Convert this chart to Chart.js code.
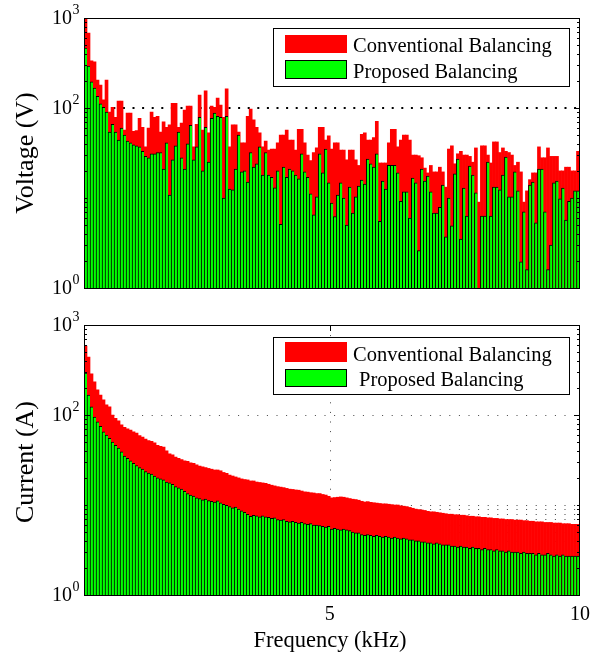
<!DOCTYPE html>
<html>
<head>
<meta charset="utf-8">
<script src="https://cdn.jsdelivr.net/npm/chart.js@4.4.1/dist/chart.umd.min.js"></script>
<style>
  html, body { margin: 0; padding: 0; background: #fff; }
  #wrap { position: relative; width: 592px; height: 654px; }
  canvas { position: absolute; left: 0; }
  #voltageChart { top: 0; }
  #currentChart { top: 305px; }
</style>
</head>
<body>
<div id="wrap">
  <canvas id="voltageChart" width="592" height="305" style="width:592px;height:305px"></canvas>
  <canvas id="currentChart" width="592" height="349" style="width:592px;height:349px"></canvas>
</div>
<script>
// Harmonic spectrum of a 60 Hz system, harmonic orders 2..166 (frequencies in kHz)
const FUNDAMENTAL_KHZ = 0.06;
const harmonicOrders = Array.from({ length: 165 }, (_, i) => i + 2);
const frequencies = harmonicOrders.map(h => +(h * FUNDAMENTAL_KHZ).toFixed(2));

const xTicks = [5, 10];
const yTickLabels = [1, 100, 1000];
const seriesNames = ['Conventional Balancing', 'Proposed Balancing'];

// Voltage harmonics (V)
const voltageConventional = [
  980, 680, 334, 325, 204, 180, 123, 204, 90, 102,
  79, 119, 119, 57, 88, 88, 55, 56, 77, 61,
  37, 60, 90, 79, 81, 54, 70, 61, 65, 113,
  113, 61, 68, 95, 105, 105, 37, 66, 139, 57,
  155, 53, 105, 102, 129, 108, 79, 163, 37, 65,
  65, 54, 41, 41, 81, 97, 74, 61, 53, 37,
  43, 34, 35, 35, 41, 50, 50, 57, 44, 44,
  34, 58, 58, 41, 30, 26, 32, 36, 61, 61,
  44, 49, 35, 41, 41, 34, 34, 26.5, 34, 34,
  26.5, 23, 51, 53, 44, 44, 47, 71, 24.5, 24.5,
  24.5, 41, 58, 58, 37, 44, 50, 50, 44, 30,
  30, 29.5, 28, 21.5, 19, 23, 19.5, 19.5, 22, 19.5,
  13.2, 35, 38, 24, 31, 33, 30, 30, 29, 25,
  36, 9, 38, 38, 30, 24.5, 42, 42, 32, 36,
  33, 32, 30, 23, 25, 19.5, 9, 12, 16, 19,
  19, 37, 28, 28, 36, 29, 29, 29, 20, 20,
  22, 22, 20, 20, 33
];
const voltageProposed = [
  464, 293, 195, 166, 135, 111, 102, 90, 54, 66,
  54, 44, 60, 50, 43, 41, 39, 38, 37, 33,
  29, 28, 31, 31, 32, 32, 21, 41, 10.8, 26.5,
  38, 54, 28, 21, 40, 64, 26.5, 37, 79, 20,
  61, 25, 77, 88, 81, 79, 10, 81, 12.6, 12.3,
  21, 50, 19.5, 20, 15, 32, 22, 24, 37, 18,
  32, 18, 17, 13, 20, 5.1, 22, 17, 21, 20,
  18, 16.3, 31, 19.5, 17, 11.1, 6.5, 10.3, 31, 19,
  35, 14.7, 8.8, 6.2, 10.8, 14.7, 10, 5, 13.2, 6.8,
  10.3, 13.6, 15.8, 14.3, 27, 24, 22, 31, 5.5, 15.4,
  12.6, 23, 23, 23, 19, 9.2, 11.7, 11.7, 6, 16.7,
  14.7, 2.6, 21, 15.4, 17.5, 11.7, 6.8, 6.8, 7.9, 13.9,
  3.7, 10, 4.9, 18.5, 27, 3.5, 12.9, 6.3, 22.7, 18,
  11.4, null, 6.3, 6.3, 25, 6.3, 13.2, 13.2, 12.3, 18,
  28.5, 10.3, 10.3, 19.5, 12, 1.95, 7, 1.6, 13.9, 15,
  5.3, 21, 21, 7, 1.6, 3, 14.7, 15.4, 9.8, 12.9,
  5.7, 9.2, 10, 12, 12
];

// Current harmonics (A)
const currentConventional = [
  585, 441, 286, 233, 190, 167, 147, 130, 123, 100,
  92, 86, 78, 73, 70, 68, 65, 63, 59, 57,
  54, 52, 51, 49, 46, 45, 44, 40, 37, 36,
  34, 33, 32, 31, 30.5, 29.5, 29, 28, 27, 26.5,
  26, 25.5, 25, 24.5, 24.5, 24, 23, 22.5, 21.5, 21,
  20.5, 20, 19.5, 19.2, 19, 18.5, 18.5, 18, 17.8, 17.6,
  17.4, 17, 16.6, 16.3, 16, 15.8, 15.6, 15.3, 15, 14.9,
  14.7, 14.6, 14.3, 14, 13.9, 13.7, 13.6, 13.4, 13.4, 13.1,
  12.9, 12.5, 12, 12.1, 12.2, 12.3, 12.2, 12, 11.8, 11.6,
  11.5, 11.3, 11, 10.8, 10.9, 10.7, 10.6, 10.5, 10.4, 10.3,
  10.3, 10.2, 10.1, 10, 10, 9.8, 9.7, 9.6, 9.4, 9.2,
  9, 8.9, 8.8, 8.7, 8.5, 8.4, 8.4, 8.3, 8.2, 8.1,
  8, 7.9, 7.9, 7.8, 7.8, 7.7, 7.7, 7.6, 7.5, 7.5,
  7.4, 7.4, 7.3, 7.3, 7.2, 7.2, 7.1, 7.1, 7, 7,
  6.9, 6.9, 6.9, 6.8, 6.8, 6.8, 6.7, 6.7, 6.6, 6.6,
  6.5, 6.5, 6.5, 6.4, 6.4, 6.4, 6.3, 6.3, 6.3, 6.2,
  6.2, 6.2, 6.1, 6.1, 6.1
];
const currentProposed = [
  293, 167, 123, 95, 84, 75, 65, 60, 55, 50,
  46, 43, 39, 35, 33, 31, 29, 27.5, 26, 25,
  23.5, 22.7, 22, 21, 20, 19.5, 19, 18, 17.6, 17,
  16, 15.5, 15, 14.2, 13.4, 12.9, 12.6, 12, 11.8, 11.4,
  11.6, 11.2, 11, 10.8, 11.1, 10.6, 10.2, 9.9, 9.6, 9.3,
  9.5, 9, 8.6, 8.3, 7.9, 7.5, 7.7, 7.6, 7.4, 7.6,
  7.4, 7.3, 7.1, 7.2, 6.9, 6.8, 6.9, 6.6, 6.5, 6.6,
  6.4, 6.3, 6.4, 6.2, 6.1, 6.2, 6, 6, 5.9, 5.8,
  5.7, 5.8, 5.4, 5.5, 5.4, 5.3, 5.4, 5.3, 5.2, 5,
  4.9, 4.9, 4.7, 4.6, 4.7, 4.6, 4.5, 4.6, 4.5, 4.4,
  4.5, 4.4, 4.3, 4.4, 4.3, 4.2, 4.3, 4.2, 4.1, 4.1,
  4, 4, 3.9, 3.9, 3.8, 3.8, 3.7, 3.8, 3.7, 3.6,
  3.6, 3.6, 3.5, 3.5, 3.4, 3.5, 3.4, 3.4, 3.3, 3.4,
  3.3, 3.3, 3.2, 3.3, 3.2, 3.2, 3.1, 3.2, 3.1, 3.1,
  3, 3.1, 3, 3, 3, 2.9, 3, 2.9, 2.9, 2.9,
  2.8, 2.9, 2.8, 2.8, 2.9, 2.8, 2.7, 2.8, 2.7, 2.8,
  2.7, 2.7, 2.7, 2.7, 2.7
];

const SERIF = "'Liberation Serif', 'Times New Roman', serif";
const RED = '#ff0000';
const GREEN = '#00ff00';

function toPoints(values) {
  return frequencies.map((f, i) => ({ x: f, y: values[i] }));
}

function dotRow(ctx, x0, x1, y, size, period) {
  for (let x = x0; x < x1; x += period) ctx.fillRect(x, y, size, size);
}
function dotCol(ctx, x, y0, y1, size, period) {
  for (let y = y0; y < y1; y += period) ctx.fillRect(x, y, size, size);
}

// Frame, ticks, grid, labels and the boxed legend drawn on the canvas
const axesDecor = {
  id: 'axesDecor',
  beforeDatasetsDraw(chart, _args, o) {
    const { ctx, chartArea: a, scales: { x, y } } = chart;
    ctx.save();
    ctx.fillStyle = o.gridColor;
    for (const v of o.hGrid) {
      const py = Math.round(y.getPixelForValue(v)) - (o.dotSize > 1 ? 1 : 0);
      dotRow(ctx, a.left + 0.5, a.right, py, o.dotSize, 9.6);
    }
    for (const v of o.vGrid) {
      const px = Math.round(x.getPixelForValue(v));
      dotCol(ctx, px, a.top + 0.5, a.bottom, o.dotSize, 9.6);
    }
    ctx.restore();
  },
  afterDraw(chart, _args, o) {
    const { ctx, chartArea: a, scales: { x, y } } = chart;
    ctx.save();
    // box
    ctx.strokeStyle = '#000';
    ctx.lineWidth = 1;
    ctx.strokeRect(a.left + 0.5, a.top + 0.5, a.right - a.left - 1, a.bottom - a.top);

    // y ticks (major and minor, both sides, inward)
    ctx.beginPath();
    for (let d = 0; d < 3; d++) {
      for (let m = 1; m <= 9; m++) {
        const v = m * Math.pow(10, d);
        const isMajor = yTickLabels.includes(v);
        const len = isMajor ? 6 : 3;
        const py = Math.round(y.getPixelForValue(v)) + 0.5;
        ctx.moveTo(a.left, py); ctx.lineTo(a.left + len, py);
        ctx.moveTo(a.right, py); ctx.lineTo(a.right - len, py);
      }
    }
    // x ticks
    for (const v of o.xTickMarks) {
      const px = Math.round(x.getPixelForValue(v)) + 0.5;
      ctx.moveTo(px, a.bottom); ctx.lineTo(px, a.bottom - 6);
      ctx.moveTo(px, a.top); ctx.lineTo(px, a.top + 6);
    }
    ctx.stroke();

    // y tick labels 10^n
    ctx.fillStyle = '#000';
    for (const v of yTickLabels) {
      const py = y.getPixelForValue(v);
      const exp = String(Math.round(Math.log10(v)));
      ctx.font = '20px ' + SERIF;
      ctx.textAlign = 'right';
      ctx.textBaseline = 'middle';
      ctx.fillText('10', 72, py + 1);
      ctx.font = '14px ' + SERIF;
      ctx.textAlign = 'left';
      ctx.fillText(exp, 72.5, py - 8);
    }

    // x tick labels
    if (o.xLabels) {
      ctx.font = '20px ' + SERIF;
      ctx.textAlign = 'center';
      ctx.textBaseline = 'alphabetic';
      for (const v of xTicks) ctx.fillText(String(v), x.getPixelForValue(v), a.bottom + 25);
      ctx.font = '22.5px ' + SERIF;
      ctx.fillText(o.xTitle, 330, a.bottom + 52);
    }

    // y title
    ctx.save();
    ctx.translate(33, o.yTitleCenter);
    ctx.rotate(-Math.PI / 2);
    ctx.font = '26px ' + SERIF;
    ctx.textAlign = 'center';
    ctx.textBaseline = 'alphabetic';
    ctx.fillText(o.yTitle, 0, 0);
    ctx.restore();

    // legend
    const L = o.legend;
    ctx.fillStyle = '#fff';
    ctx.fillRect(L.x, L.y, L.w, L.h);
    ctx.strokeStyle = '#000';
    ctx.strokeRect(L.x + 0.5, L.y + 0.5, L.w, L.h);
    ctx.fillStyle = RED;
    ctx.fillRect(285, L.y + L.r1, 62, L.sh1);
    ctx.fillStyle = GREEN;
    ctx.fillRect(285, L.y + L.r2, 62, L.sh2);
    ctx.strokeRect(285.5, L.y + L.r2 + 0.5, 61, L.sh2 - 1);
    ctx.fillStyle = '#000';
    ctx.font = '20.5px ' + SERIF;
    ctx.textAlign = 'left';
    ctx.textBaseline = 'alphabetic';
    ctx.fillText(seriesNames[0], 353, L.y + L.b1);
    ctx.fillText(seriesNames[1], 353 + L.indent2, L.y + L.b2);
    ctx.restore();
  }
};

function makePanel(canvasId, conventional, proposed, panel) {
  return new Chart(document.getElementById(canvasId), {
    type: 'bar',
    data: {
      datasets: [
        {
          label: seriesNames[1],
          data: toPoints(proposed),
          backgroundColor: GREEN,
          borderColor: '#000',
          borderWidth: { top: 1, left: 1, right: 0, bottom: 0 },
          borderSkipped: 'start'
        },
        {
          label: seriesNames[0],
          data: toPoints(conventional),
          backgroundColor: RED,
          borderWidth: 0
        }
      ]
    },
    options: {
      responsive: false,
      animation: false,
      devicePixelRatio: 1,
      layout: { padding: panel.padding },
      datasets: { bar: { grouped: false, barPercentage: 1, categoryPercentage: 1 } },
      scales: {
        x: { type: 'linear', min: 0.09, max: 10, offset: false, display: false },
        y: { type: 'logarithmic', min: 1, max: 1000, display: false }
      },
      plugins: {
        legend: { display: false },
        tooltip: { enabled: false },
        axesDecor: panel.decor
      }
    },
    plugins: [axesDecor]
  });
}

makePanel('voltageChart', voltageConventional, voltageProposed, {
  padding: { left: 84, right: 12, top: 18, bottom: 17 },
  decor: {
    hGrid: [100],
    vGrid: [],
    gridColor: '#000',
    dotSize: 2,
    xTickMarks: [],
    xLabels: false,
    yTitle: 'Voltage (V)',
    yTitleCenter: 153,
    legend: { x: 273, y: 28, w: 296, h: 58, r1: 7, sh1: 18, r2: 32, sh2: 19, b1: 24, b2: 50, indent2: 0 }
  }
});

makePanel('currentChart', currentConventional, currentProposed, {
  padding: { left: 84, right: 12, top: 20, bottom: 59 },
  decor: {
    hGrid: [2, 3, 4, 5, 6, 7, 8, 9, 10, 100],
    vGrid: [5],
    gridColor: '#444',
    dotSize: 1,
    xTickMarks: [5],
    xLabels: true,
    xTitle: 'Frequency (kHz)',
    yTitle: 'Current (A)',
    yTitleCenter: 157,
    legend: { x: 273, y: 32, w: 296, h: 57, r1: 5, sh1: 20, r2: 32, sh2: 18, b1: 24, b2: 49, indent2: 6 }
  }
});
</script>
</body>
</html>
